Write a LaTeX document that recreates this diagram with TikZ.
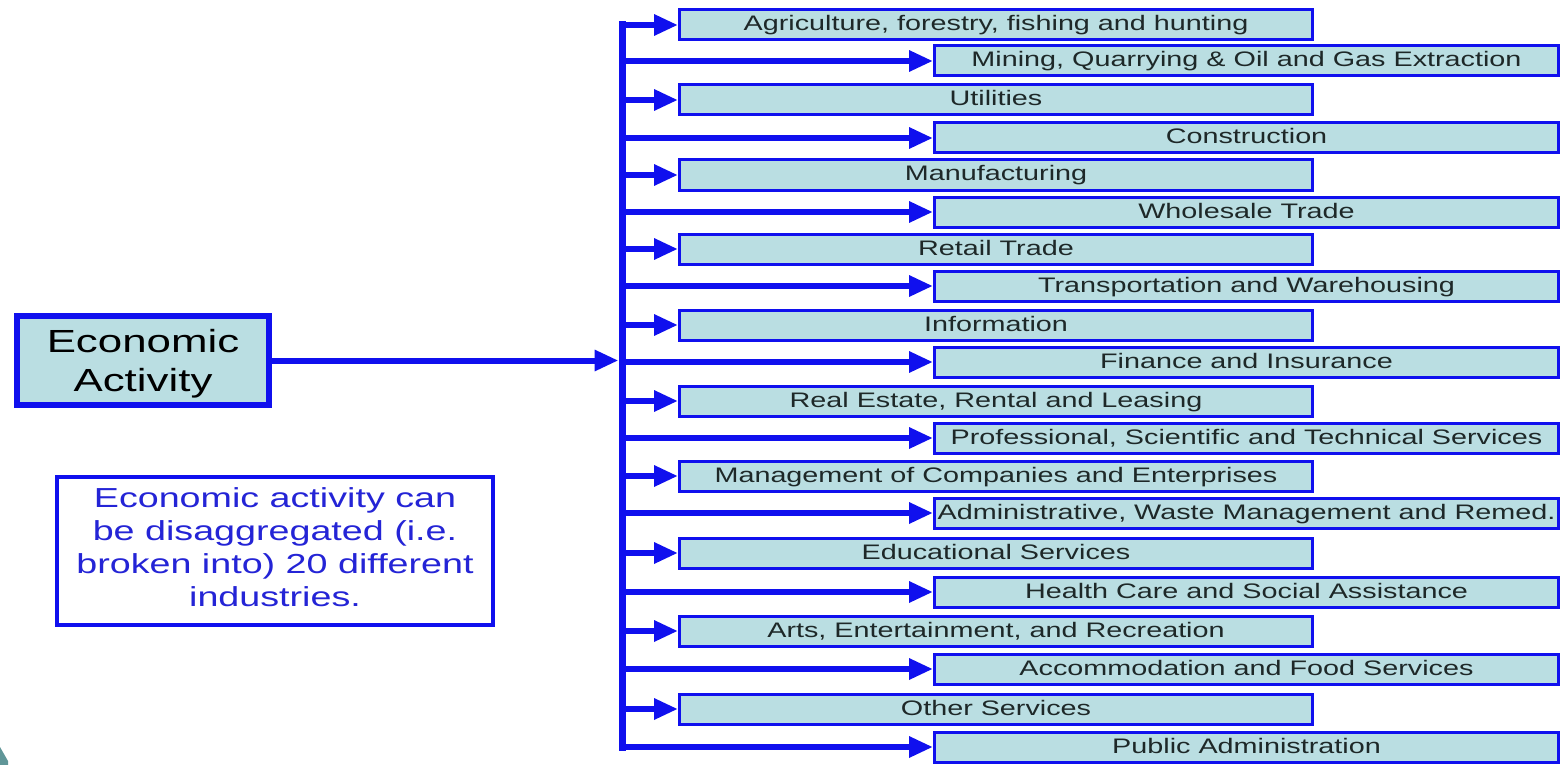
\documentclass[tikz,border=0pt]{standalone}
\usepackage{fontspec}
\setmainfont{Liberation Sans}[FakeStretch=1.37]
\usetikzlibrary{arrows.meta}

\definecolor{lineblue}{RGB}{16,16,238}
\definecolor{boxfill}{RGB}{186,222,226}
\definecolor{notetext}{RGB}{36,36,214}
\definecolor{indtext}{RGB}{30,40,40}
\definecolor{cornerteal}{RGB}{96,150,152}

\begin{document}
\begin{tikzpicture}[x=1pt, y=-1pt,
    ind/.style={draw=lineblue, line width=3pt, fill=boxfill, minimum height=30pt, inner sep=0pt, text=indtext, text height=15pt, text depth=3pt, font=\fontsize{21}{24}\selectfont},
    indL/.style={ind, minimum width=633pt},
    indR/.style={ind, minimum width=624pt},
    econ/.style={draw=lineblue, line width=6pt, fill=boxfill, minimum width=252pt, minimum height=89pt, inner sep=0pt, align=center, text depth=0pt, font=\fontsize{32}{39}\selectfont},
    note/.style={draw=lineblue, line width=4pt, fill=white, minimum width=436pt, minimum height=148pt, inner sep=0pt, align=center, text depth=8pt, text=notetext, font=\fontsize{27.5}{33}\selectfont},
    bus/.style={lineblue, line width=7pt, line cap=rect},
    branch/.style={lineblue, line width=6pt, -{Triangle[length=24pt,width=20pt]}}]

% page
\fill[white] (0,0) rectangle (1564,765);
\useasboundingbox (0,0) rectangle (1564,765);

% Economic activity and note
\node[econ] (econ) at (143,360.5) {Economic\\Activity};
\node[note] (note) at (275,551) {Economic activity can\\be disaggregated (i.e.\\broken into) 20 different\\industries.};

% Industries - left column
\node[indL] (agri) at (996,25) {Agriculture, forestry, fishing and hunting};
\node[indL] (util) at (996,100) {Utilities};
\node[indL] (manuf) at (996,175) {Manufacturing};
\node[indL] (retail) at (996,249) {Retail Trade};
\node[indL] (info) at (996,325) {Information};
\node[indL] (realest) at (996,401) {Real Estate, Rental and Leasing};
\node[indL] (mgmt) at (996,476) {Management of Companies and Enterprises};
\node[indL] (educ) at (996,553) {Educational Services};
\node[indL] (arts) at (996,631) {Arts, Entertainment, and Recreation};
\node[indL] (other) at (996,709) {Other Services};

% Industries - right column
\node[indR] (mining) at (1246.5,61) {Mining, Quarrying \& Oil and Gas Extraction};
\node[indR] (constr) at (1246.5,138) {Construction};
\node[indR] (whole) at (1246.5,212) {Wholesale Trade};
\node[indR] (transp) at (1246.5,286) {Transportation and Warehousing};
\node[indR] (finance) at (1246.5,362) {Finance and Insurance};
\node[indR] (prof) at (1246.5,438) {Professional, Scientific and Technical Services};
\node[indR] (admin) at (1246.5,513) {Administrative, Waste Management and Remed.};
\node[indR] (health) at (1246.5,592) {Health Care and Social Assistance};
\node[indR] (accom) at (1246.5,669) {Accommodation and Food Services};
\node[indR] (public) at (1246.5,747) {Public Administration};

% trunk
\coordinate (ttop) at (622,25);
\coordinate (tbot) at (622,747);
\draw[bus] (ttop) -- (tbot);

% main arrow into the trunk
\draw[branch, shorten >=3.5pt] (econ.east) -- (econ.east -| ttop);

% branches
\draw[branch] (ttop |- agri.west) -- (agri.west);
\draw[branch] (ttop |- mining.west) -- (mining.west);
\draw[branch] (ttop |- util.west) -- (util.west);
\draw[branch] (ttop |- constr.west) -- (constr.west);
\draw[branch] (ttop |- manuf.west) -- (manuf.west);
\draw[branch] (ttop |- whole.west) -- (whole.west);
\draw[branch] (ttop |- retail.west) -- (retail.west);
\draw[branch] (ttop |- transp.west) -- (transp.west);
\draw[branch] (ttop |- info.west) -- (info.west);
\draw[branch] (ttop |- finance.west) -- (finance.west);
\draw[branch] (ttop |- realest.west) -- (realest.west);
\draw[branch] (ttop |- prof.west) -- (prof.west);
\draw[branch] (ttop |- mgmt.west) -- (mgmt.west);
\draw[branch] (ttop |- admin.west) -- (admin.west);
\draw[branch] (ttop |- educ.west) -- (educ.west);
\draw[branch] (ttop |- health.west) -- (health.west);
\draw[branch] (ttop |- arts.west) -- (arts.west);
\draw[branch] (ttop |- accom.west) -- (accom.west);
\draw[branch] (ttop |- other.west) -- (other.west);
\draw[branch] (ttop |- public.west) -- (public.west);

% slide corner
\fill[cornerteal] (0,747) -- (8,761) -- (8,765) -- (0,765) -- cycle;
\end{tikzpicture}
\end{document}
